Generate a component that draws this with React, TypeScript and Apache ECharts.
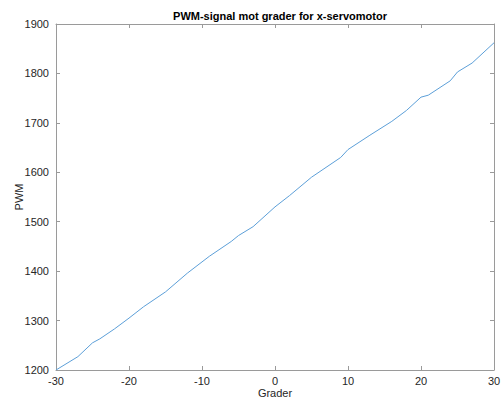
import React, { useEffect, useRef } from "react";
import * as echarts from "echarts";

const degrees = [-30, -27, -25, -24, -22, -20, -18, -15, -12, -9, -6, -5, -3, 0, 2, 5, 9, 10, 13, 16, 18, 20, 21, 24, 25, 27, 30];
const pwm = [1200, 1227, 1255, 1263, 1283, 1305, 1328, 1358, 1396, 1430, 1460, 1472, 1490, 1530, 1553, 1590, 1630, 1646, 1675, 1703, 1725, 1752, 1756, 1785, 1803, 1821, 1862];
const title = "PWM-signal mot grader for x-servomotor";
const xName = "Grader";
const yName = "PWM";

export default function App() {
  const ref = useRef<HTMLDivElement>(null);
  useEffect(() => {
    const chart = echarts.init(ref.current!, null, { renderer: "svg" });
    const font = "Liberation Sans, Arial, Helvetica, sans-serif";
    const axisColor = "#9a9a9a";
    const textColor = "#262626";
    const baseX = {
      type: "value" as const,
      min: -30,
      max: 30,
      interval: 10,
      splitLine: { show: false },
      axisLine: { show: true, onZero: false, lineStyle: { color: axisColor, width: 1 } },
      axisTick: { show: true, inside: true, length: 4, lineStyle: { color: axisColor } },
    };
    const baseY = {
      type: "value" as const,
      min: 1200,
      max: 1900,
      interval: 100,
      splitLine: { show: false },
      axisLine: { show: true, onZero: false, lineStyle: { color: axisColor, width: 1 } },
      axisTick: { show: true, inside: true, length: 4, lineStyle: { color: axisColor } },
    };
    chart.setOption({
      animation: false,
      backgroundColor: "#ffffff",
      title: {
        text: title,
        left: 275,
        top: 5,
        textAlign: "center",
        textStyle: { fontFamily: font, fontSize: 11, fontWeight: "bold", color: "#000" },
      },
      grid: { left: 56, right: 7, top: 24, bottom: 30, containLabel: false, outerBoundsMode: "none" },
      xAxis: [
        {
          ...baseX,
          position: "bottom",
          name: xName,
          nameLocation: "middle",
          nameGap: 17,
          nameMoveOverlap: false,
          nameTextStyle: { fontFamily: font, fontSize: 11, color: textColor },
          axisLabel: { fontFamily: font, fontSize: 11, color: textColor, margin: 5 },
        },
        { ...baseX, position: "top", axisLabel: { show: false } },
      ],
      yAxis: [
        {
          ...baseY,
          position: "left",
          name: yName,
          nameLocation: "middle",
          nameGap: 32,
          nameMoveOverlap: false,
          nameTextStyle: { fontFamily: font, fontSize: 11, color: textColor },
          axisLabel: { fontFamily: font, fontSize: 11, color: textColor, margin: 7, formatter: (v: number) => String(v) },
        },
        { ...baseY, position: "right", axisLabel: { show: false } },
      ],
      series: [
        {
          type: "line",
          data: degrees.map((d, i) => [d, pwm[i]]),
          showSymbol: false,
          lineStyle: { color: "#5c9fd8", width: 1 },
          xAxisIndex: 0,
          yAxisIndex: 0,
        },
      ],
    });
    return () => chart.dispose();
  }, []);
  return <div ref={ref} style={{ width: 501, height: 400, position: "absolute", left: 0, top: 0 }} />;
}
